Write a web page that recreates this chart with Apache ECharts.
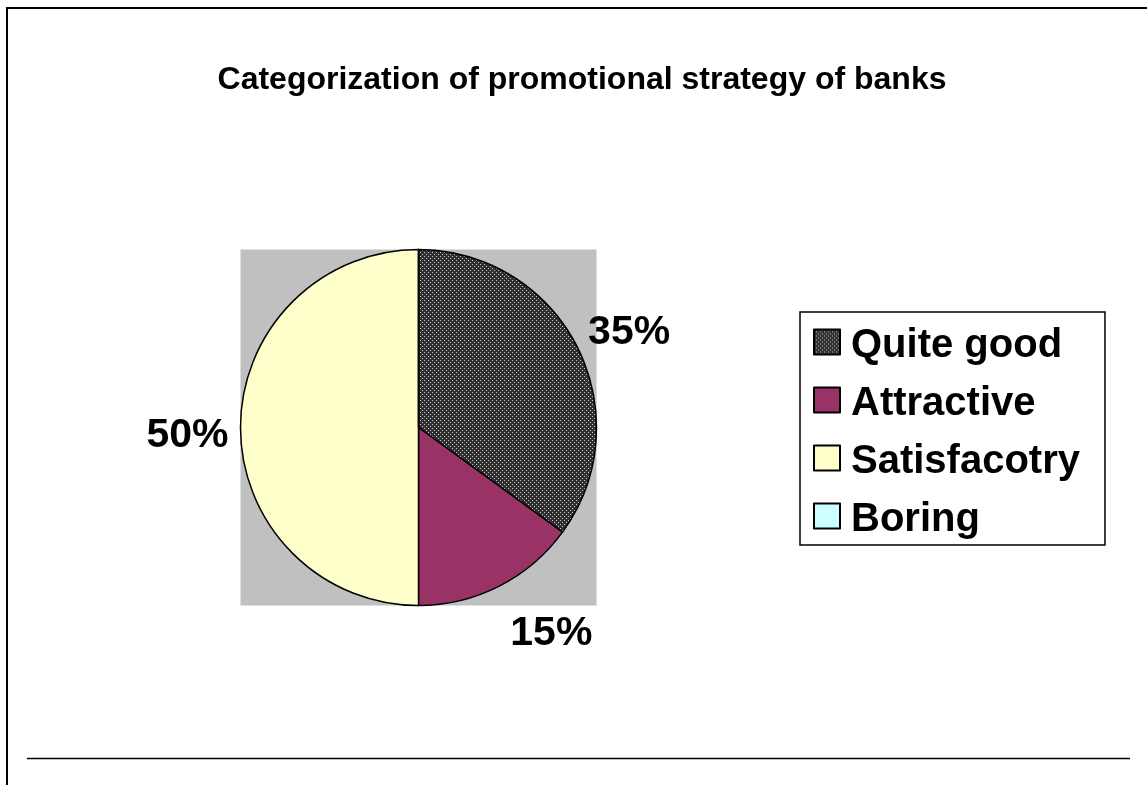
<!DOCTYPE html>
<html>
<head>
<meta charset="utf-8">
<script src="https://cdn.jsdelivr.net/npm/echarts@6/dist/echarts.min.js"></script>
<style>
html,body{margin:0;padding:0;background:#fff;}
#chart{width:1147px;height:785px;}
</style>
</head>
<body>
<div id="chart"></div>
<script>
const titleText = 'Categorization of promotional strategy of banks';
const categories = ['Quite good', 'Attractive', 'Satisfacotry', 'Boring'];
const values = [35, 15, 50, 0];
const colors = ['pattern', '#993366', '#FFFFCC', '#CCFFFF'];

// layout (styling, not data)
const CX = 418.5, CY = 427.5, R = 178;
const labelShift = [[11, -14], [11, 48], [-12, 8], [0, 0]];

function makePattern() {
  const c = document.createElement('canvas');
  c.width = 4; c.height = 4;
  const g = c.getContext('2d');
  g.fillStyle = '#303030';
  g.fillRect(0, 0, 4, 4);
  g.fillStyle = '#c8c8c8';
  g.fillRect(0, 0, 1, 1);
  g.fillRect(2, 2, 1, 1);
  return { image: c, repeat: 'repeat' };
}
const pattern = makePattern();

const chart = echarts.init(document.getElementById('chart'), null, { renderer: 'canvas' });
const FONT = 'Arial, "Liberation Sans", sans-serif';

chart.setOption({
  animation: false,
  backgroundColor: '#ffffff',
  title: {
    text: titleText,
    left: 577,
    textAlign: 'center',
    top: 59,
    textStyle: { fontFamily: FONT, fontWeight: 'bold', fontSize: 32, color: '#000' }
  },
  legend: {
    orient: 'vertical',
    left: 800,
    top: 312,
    padding: [6, 25, 5, 13],
    itemGap: 10,
    itemWidth: 26,
    itemHeight: 25,
    icon: 'rect',
    backgroundColor: '#ffffff',
    borderColor: '#000',
    borderWidth: 1.5,
    borderRadius: 0,
    selectedMode: false,
    itemStyle: { borderColor: '#000', borderWidth: 2 },
    formatter: '{t|{name}}',
    textStyle: {
      fontFamily: FONT, fontWeight: 'bold', fontSize: 40, color: '#000', padding: [0, 0, 0, 6],
      rich: {
        t: { fontFamily: FONT, fontWeight: 'bold', fontSize: 40, color: '#000', lineHeight: 40, padding: [8, 0, 0, 0] }
      }
    },
    data: categories
  },
  graphic: [
    { type: 'rect', silent: true, z: -10,
      shape: { x: CX - R, y: CY - R, width: 2 * R, height: 2 * R },
      style: { fill: '#C0C0C0', stroke: null } },
    { type: 'rect', silent: true, z: -10,
      shape: { x: 7, y: 8, width: 1300, height: 1000 },
      style: { fill: null, stroke: '#000', lineWidth: 2 } },
    { type: 'line', silent: true, z: -10,
      shape: { x1: 27, y1: 758.5, x2: 1130, y2: 758.5 },
      style: { stroke: '#000', lineWidth: 1.5 } }
  ],
  series: [{
    type: 'pie',
    center: [CX, CY],
    radius: R,
    startAngle: 90,
    clockwise: true,
    avoidLabelOverlap: false,
    emphasis: { disabled: true, scale: false },
    itemStyle: { borderColor: '#000', borderWidth: 1.5 },
    label: {
      show: true,
      position: 'outside',
      formatter: '{d}%',
      fontFamily: FONT,
      fontWeight: 'bold',
      fontSize: 41,
      color: '#000',
      distanceToLabelLine: 0
    },
    labelLine: { show: false, length: 0, length2: 0 },
    labelLayout: function (p) {
      const s = labelShift[p.dataIndex] || [0, 0];
      return { dx: s[0], dy: s[1] };
    },
    data: categories.map(function (name, i) {
      const item = {
        name: name,
        value: values[i],
        itemStyle: { color: colors[i] === 'pattern' ? pattern : colors[i] }
      };
      if (values[i] === 0) item.label = { show: false };
      return item;
    })
  }]
});
</script>
</body>
</html>
